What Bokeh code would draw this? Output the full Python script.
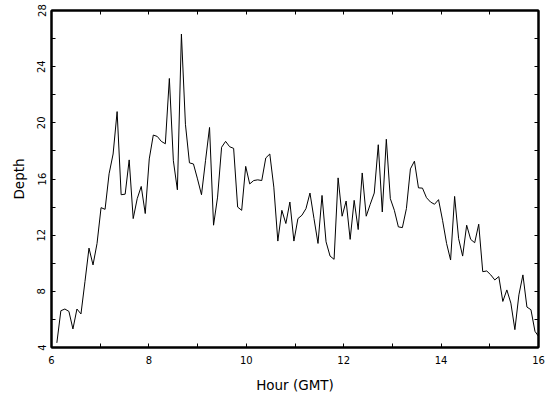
from bokeh.plotting import figure
from bokeh.models import LinearAxis, FixedTicker, ColumnDataSource, CustomJSTickFormatter
from bokeh.embed import file_html
from bokeh.resources import INLINE

# Regular sampling: first reading ~06:07 GMT, ~4.95 min apart
start_hour = 6.11
step_hours = 0.0825

depth = [
    4.33, 6.62, 6.74, 6.57, 5.32, 6.74, 6.39, 8.7, 11.08, 9.88,
    11.41, 13.96, 13.84, 16.37, 17.78, 20.8, 14.88, 14.92, 17.36, 13.18,
    14.6, 15.47, 13.54, 17.43, 19.13, 19.03, 18.68, 18.51, 23.16, 17.3,
    15.23, 26.32, 19.9, 17.15, 17.07, 16.01, 14.88, 17.3, 19.67, 12.71,
    14.71, 18.26, 18.68, 18.3, 18.18, 14.0, 13.77, 16.9, 15.65, 15.89,
    15.94, 15.89, 17.5, 17.78, 15.42, 11.58, 13.77, 12.83, 14.36, 11.58,
    13.18, 13.42, 13.89, 15.0, 13.18, 11.41, 14.83, 11.53, 10.51, 10.28,
    16.08, 13.35, 14.43, 11.7, 14.48, 12.4, 16.43, 13.35, 14.2, 15.0,
    18.44, 13.65, 18.83, 14.6, 13.77, 12.59, 12.54, 13.89, 16.72, 17.27,
    15.37, 15.35, 14.67, 14.36, 14.2, 14.53, 13.06, 11.41, 10.23, 14.76,
    11.75, 10.51, 12.71, 11.7, 11.46, 12.78, 9.4, 9.45, 9.17, 8.81,
    9.05, 7.28, 8.1, 7.16, 5.27, 7.75, 9.17, 6.88, 6.69, 5.15,
    4.75,
]
hours = [start_hour + i * step_hours for i in range(len(depth))]

x_major = [6, 8, 10, 12, 14, 16]
x_minor = [7, 9, 11, 13, 15]
y_major = [4, 8, 12, 16, 20, 24, 28]
y_minor = [6, 10, 14, 18, 22, 26]

FONT = "DejaVu Sans"

p = figure(width=545, height=398, output_backend="svg", toolbar_location=None,
           x_range=(6, 16), y_range=(4, 28),
           min_border_left=51, min_border_right=7, min_border_top=10, min_border_bottom=51)
p.background_fill_color = "white"
p.border_fill_color = "white"
p.grid.visible = False
p.outline_line_color = "black"
p.outline_line_width = 2

src = ColumnDataSource(data=dict(h=hours, d=depth))
p.line("h", "d", source=src, line_color="black", line_width=1.0)

xt = FixedTicker(ticks=x_major, minor_ticks=x_minor)
yt = FixedTicker(ticks=y_major, minor_ticks=y_minor)


def style(ax, ticker, labels=True):
    ax.ticker = ticker
    ax.axis_line_color = "black"
    ax.axis_line_width = 2
    ax.major_tick_in = 4
    ax.major_tick_out = 0
    ax.minor_tick_in = 4
    ax.minor_tick_out = 0
    ax.major_tick_line_color = "black"
    ax.minor_tick_line_color = "black"
    ax.major_label_text_font = FONT
    ax.major_label_text_font_size = "10px"
    ax.major_label_text_color = "black"
    ax.axis_label_text_font = FONT
    ax.axis_label_text_font_size = "13.5px"
    ax.axis_label_text_font_style = "normal"
    ax.axis_label_text_color = "black"
    if not labels:
        ax.formatter = CustomJSTickFormatter(code="return ''")
        ax.major_label_standoff = 0
        ax.axis_label = None


xa = p.xaxis[0]
style(xa, xt)
xa.axis_label = "Hour (GMT)"
xa.major_label_standoff = 8
xa.axis_label_standoff = 10

ya = p.yaxis[0]
style(ya, yt)
ya.axis_label = "Depth"
ya.major_label_orientation = "vertical"
ya.major_label_standoff = 6
ya.axis_label_standoff = 8

top = LinearAxis()
style(top, xt, labels=False)
p.add_layout(top, "above")

right = LinearAxis()
style(right, yt, labels=False)
p.add_layout(right, "right")

open("out.html", "w").write(file_html(p, INLINE))
